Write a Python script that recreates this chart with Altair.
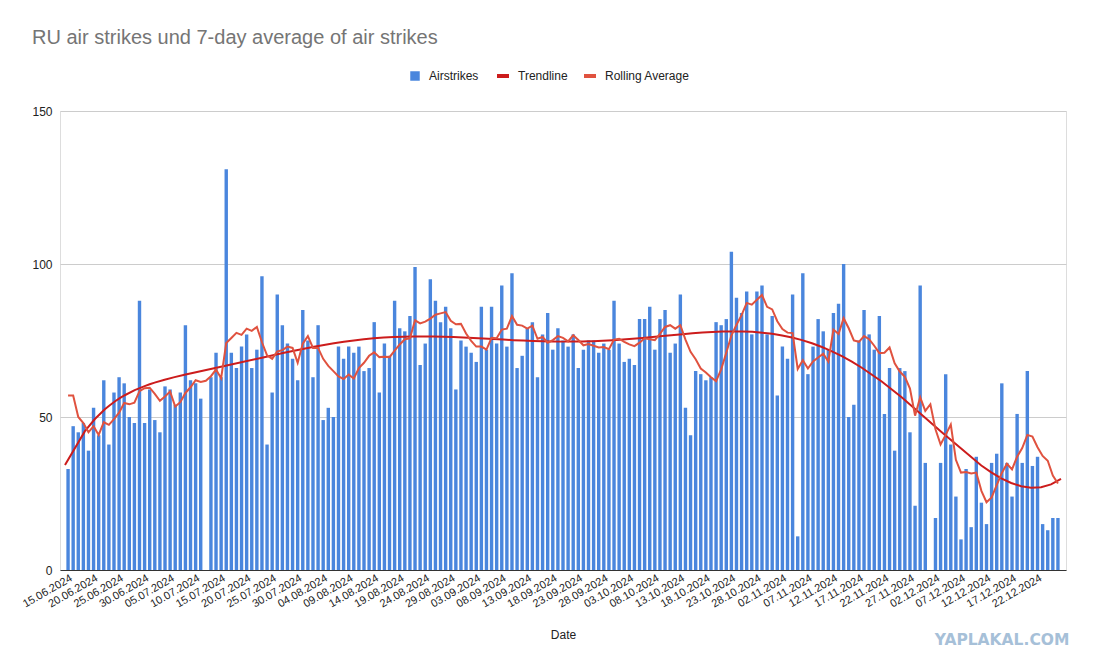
import json
import altair as alt
import pandas as pd

# Daily air strikes, 15.06.2024 .. 26.12.2024 (None = no bar)
strikes = [
    33, 47, 45, 48, 39, 53, 44, 62, 41, 58, 63, 61, 50, 48, 88, 48, 59, 49, 45, 60,
    59, 54, 58, 80, 62, 61, 56, None, 63, 71, 63, 131, 71,
    66, 73, 77, 66, 72, 96, 41, 58, 90, 80, 74, 69, 62, 85, 75, 63, 80, 49, 53, 50,
    73, 69, 73, 71, 73, 65, 66, 81, 58, 74, 70, 88, 79,
    78, 83, 99, 67, 74, 95, 88, 81, 86, 79, 59, 75, 73, 71, 68, 86, 72, 86, 74, 93,
    73, 97, 66, 70, 79, 81, 63, 77, 84, 72, 79, 75, 73,
    77, 66, 72, 75, 75, 71, 74, 72, 88, 74, 68, 69, 67, 82, 82, 86, 72, 82, 85, 71,
    74, 90, 53, 44, 65, 64, 62, 63, 81, 80, 82, 104, 89,
    84, 91, 77, 91, 93, 77, 83, 57, 73, 69, 90, 11, 97, 64, 73, 82, 78, 72, 84, 87,
    100, 50, 54, 75, 85, 77, 72, 83, 51, 66, 39, 66, 65,
    45, 21, 93, 35, None, 17, 35, 64, 41, 24, 10, 33, 14, 37, 22, 15, 35, 38, 61, 35,
    24, 51, 35, 65, 34, 37, 15, 13, 17, 17,
]
# rolling average of the first days (includes days before the shown range)
early_avg = [57, 57, 50, 48, 45, 47]

tick_labels = [
    "15.06.2024", "20.06.2024", "25.06.2024", "30.06.2024", "05.07.2024", "10.07.2024",
    "15.07.2024", "20.07.2024", "25.07.2024", "30.07.2024", "04.08.2024", "09.08.2024",
    "14.08.2024", "19.08.2024", "24.08.2024", "29.08.2024", "03.09.2024", "08.09.2024",
    "13.09.2024", "18.09.2024", "23.09.2024", "28.09.2024", "03.10.2024", "08.10.2024",
    "13.10.2024", "18.10.2024", "23.10.2024", "28.10.2024", "02.11.2024", "07.11.2024",
    "12.11.2024", "17.11.2024", "22.11.2024", "27.11.2024", "02.12.2024", "07.12.2024",
    "12.12.2024", "17.12.2024", "22.12.2024",
]
tick_days = [i * 5 for i in range(len(tick_labels))]

n = len(strikes)
df = pd.DataFrame({
    "day": list(range(n)),
    "strikes": strikes,
    "early": early_avg + [None] * (n - len(early_avg)),
})

BLUE = "#4a86dd"
TREND = "#cc1c1c"
ROLL = "#e0523f"
DOM = [-0.6, 194.6]

label_expr = json.dumps(tick_labels) + "[round(datum.value / 5)]"

x_axis = alt.Axis(
    values=tick_days, labelExpr=label_expr, labelAngle=-30, labelAlign="right",
    labelBaseline="top", labelFontSize=11, labelColor="#222", labelPadding=2,
    domain=False, ticks=False, grid=False, title="Date", titleFontSize=12,
    titleFontWeight="normal", titleColor="#222", titlePadding=20,
    labelFont="Liberation Sans", titleFont="Liberation Sans", labelOverlap=False,
)
x_scale = alt.Scale(domain=DOM, nice=False, zero=False)
y_scale = alt.Scale(domain=[0, 150], nice=False)
y_axis = alt.Axis(
    values=[0, 50, 100, 150], title=None, domain=False, ticks=False,
    labelFontSize=12, labelColor="#222", labelPadding=8, labelFont="Liberation Sans",
    gridColor={"condition": {"test": "datum.value === 0", "value": "#333"}, "value": "#cccccc"},
)


def xe():
    return alt.X("day:Q", scale=x_scale, axis=x_axis)


base = alt.Chart(df)

bars = base.transform_calculate(series='"Airstrikes"').mark_bar(size=3.4).encode(
    x=xe(),
    y=alt.Y("strikes:Q", scale=y_scale, axis=y_axis),
    color=alt.Color(
        "series:N",
        scale=alt.Scale(domain=["Airstrikes"], range=[BLUE]),
        legend=alt.Legend(
            orient="none", legendX=349, legendY=-41, title=None, symbolType="square",
            symbolSize=90, labelFontSize=12, labelColor="#222", labelFont="Liberation Sans",
            labelOffset=8,
        ),
    ),
)

rolling = base.transform_window(
    win="mean(strikes)", frame=[-6, 0], sort=[alt.SortField("day")]
).transform_calculate(
    avg="isValid(datum.early) ? datum.early : datum.win", series='"Rolling Average"'
).mark_line(strokeWidth=2).encode(
    x=xe(),
    y=alt.Y("avg:Q", scale=y_scale, axis=y_axis),
    stroke=alt.Stroke(
        "series:N",
        scale=alt.Scale(domain=["Trendline", "Rolling Average"], range=[TREND, ROLL]),
        legend=alt.Legend(
            orient="none", legendX=435, legendY=-43, title=None, direction="horizontal",
            symbolType="stroke", symbolSize=144, symbolStrokeWidth=4,
            labelFontSize=12, labelColor="#222", labelFont="Liberation Sans",
            labelOffset=7, columnPadding=8,
        ),
    ),
)

# polynomial trendline (degree 8) fitted to the daily values
trend = base.transform_filter("isValid(datum.strikes)").transform_calculate(
    t="datum.day / 100"
).transform_regression(
    "t", "strikes", method="poly", order=8, extent=[DOM[0] / 100, DOM[1] / 100]
).transform_calculate(
    day="datum.t * 100", series='"Trendline"'
).mark_line(strokeWidth=2).encode(
    x=xe(),
    y=alt.Y("strikes:Q", scale=y_scale, axis=y_axis),
    stroke=alt.Stroke("series:N"),
)

watermark = alt.Chart(alt.Data(values=[{}])).mark_text(
    text="YAPLAKAL.COM", font="DejaVu Sans", fontWeight="bold", fontSize=15.5,
    color="#a6c0d8", align="center", baseline="middle",
).encode(x=alt.value(942), y=alt.value(529))

chart = alt.layer(bars, trend, rolling, watermark).properties(
    width=1006, height=459,
    padding={"left": 52, "top": 103, "right": 23, "bottom": 90},
    autosize=alt.AutoSizeParams(type="none"),
    title=alt.TitleParams(
        "RU air strikes und 7-day average of air strikes", anchor="start", frame="group",
        dx=-28, offset=4, baseline="alphabetic", fontSize=20, fontWeight="normal",
        color="#757575", font="Liberation Sans",
    ),
).configure_view(stroke=None).configure(background="white")

chart.save("out.html", embed_options={"renderer": "svg", "actions": False})
